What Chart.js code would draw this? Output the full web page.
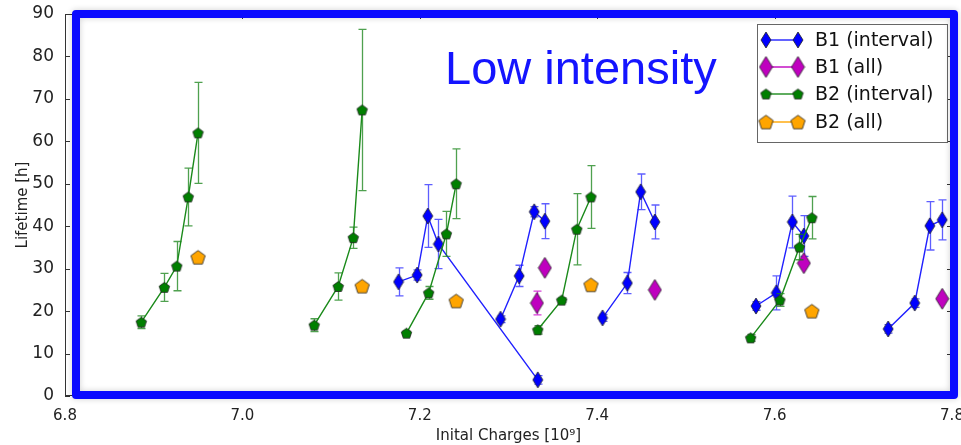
<!DOCTYPE html>
<html><head><meta charset="utf-8">
<script src="https://cdn.jsdelivr.net/npm/chart.js@4.4.0/dist/chart.umd.min.js"></script>
<style>html,body{margin:0;padding:0;background:#fff;}#wrap{width:961px;height:445px;}</style>
</head><body><div id="wrap"><canvas id="c" width="961" height="445"></canvas></div>
<script>
// ---- tick labels ----
const xTicks = [6.8, 7.0, 7.2, 7.4, 7.6, 7.8];
const yTicks = [0, 10, 20, 30, 40, 50, 60, 70, 80, 90];

// ---- B1 (interval) ----
const b1IntGroup = [1,1,1,1,1, 2,2,2,2, 3,3,3,3, 4,4,4,4, 5,5,5,5];
const b1IntX   = [7.176,7.197,7.209,7.221,7.333, 7.291,7.312,7.329,7.341, 7.406,7.434,7.449,7.465, 7.579,7.602,7.620,7.633, 7.728,7.758,7.775,7.789];
const b1IntY   = [26.9,28.5,42.4,35.8,3.8, 18.1,28.3,43.4,41.2, 18.4,26.6,48.1,41.0, 21.2,24.3,41.0,37.7, 15.8,21.9,40.1,41.5];
const b1IntErr = [3.3,1.2,7.4,5.8,1.0, 0.8,2.5,1.2,4.1, 0.8,2.5,4.2,4.0, 1.0,4.0,6.1,4.8, 1.0,1.0,5.7,4.7];

// ---- B1 (all) ----
const b1AllX   = [7.332, 7.341, 7.465, 7.633, 7.789];
const b1AllY   = [21.9, 30.2, 25.0, 31.3, 22.9];
const b1AllErr = [2.8, 0, 0, 0, 0];

// ---- B2 (interval) ----
const b2IntGroup = [1,1,1,1,1, 2,2,2,2, 3,3,3,3, 4,4,4,4, 5,5,5,5];
const b2IntX   = [6.886,6.912,6.926,6.939,6.950, 7.081,7.108,7.125,7.135, 7.185,7.210,7.230,7.241, 7.333,7.360,7.377,7.393, 7.573,7.606,7.628,7.642];
const b2IntY   = [17.4,25.6,30.6,46.9,62.0, 16.7,25.8,37.3,67.4, 14.8,24.3,38.2,50.0, 15.6,22.6,39.3,46.9, 13.7,22.6,35.1,42.0];
const b2IntErr = [1.5,3.3,5.8,6.8,11.9, 1.5,3.2,2.5,19.0, 0.5,1.5,5.3,8.2, 1.0,0.5,8.4,7.4, 0.8,1.5,3.0,5.0];

// ---- B2 (all) ----
const b2AllX = [6.950, 7.135, 7.241, 7.393, 7.642];
const b2AllY = [32.7, 25.9, 22.4, 26.2, 20.0];

const labels = ['B1 (interval)', 'B1 (all)', 'B2 (interval)', 'B2 (all)'];
const titleText = 'Low intensity';

// ---- marker images ----
function diamond(w, h, fill) {
  const c = document.createElement('canvas'); c.width = w + 2; c.height = h + 2;
  const g = c.getContext('2d'); const cx = c.width / 2, cy = c.height / 2;
  g.beginPath(); g.moveTo(cx, cy - h/2); g.lineTo(cx + w/2, cy); g.lineTo(cx, cy + h/2); g.lineTo(cx - w/2, cy); g.closePath();
  g.fillStyle = fill; g.fill(); g.strokeStyle = '#222'; g.lineWidth = 0.8; g.stroke();
  return c;
}
function pentagon(d, fill) {
  const c = document.createElement('canvas'); c.width = d + 2; c.height = d + 2;
  const g = c.getContext('2d'); const cx = c.width / 2, cy = c.height / 2 + d*0.05, r = d / 2;
  g.beginPath();
  for (let k = 0; k < 5; k++) { const a = -Math.PI/2 + k * 2*Math.PI/5; const px = cx + r*Math.cos(a), py = cy + r*Math.sin(a); k ? g.lineTo(px, py) : g.moveTo(px, py); }
  g.closePath(); g.fillStyle = fill; g.fill(); g.strokeStyle = '#222'; g.lineWidth = 0.8; g.stroke();
  return c;
}
const mkB1i = diamond(10, 16, '#0000ff');
const mkB1a = diamond(13, 21, '#bf00bf');
const mkB2i = pentagon(11, '#007f00');
const mkB2a = pentagon(15, '#ffa500');

function build(xs, ys, errs, groups) {
  const data = [], e = [];
  for (let i = 0; i < xs.length; i++) {
    if (groups && i > 0 && groups[i] !== groups[i-1]) { data.push({x: xs[i], y: null}); e.push(0); }
    data.push({x: xs[i], y: ys[i]}); e.push(errs ? errs[i] : 0);
  }
  return {data, e};
}
const s1 = build(b1IntX, b1IntY, b1IntErr, b1IntGroup);
const s2 = build(b1AllX, b1AllY, b1AllErr, null);
const s3 = build(b2IntX, b2IntY, b2IntErr, b2IntGroup);
const s4 = build(b2AllX, b2AllY, null, null);

const datasets = [
  {label: labels[0], data: s1.data, errors: s1.e, errColor: 'rgba(40,40,255,0.75)', borderColor: '#2020ff', borderWidth: 1.4, showLine: true, spanGaps: false, pointStyle: mkB1i, pointRadius: 8, order: 4, marker: mkB1i},
  {label: labels[1], data: s2.data, errors: s2.e, errColor: 'rgba(200,0,200,0.75)', borderColor: '#bf00bf', borderWidth: 1.4, showLine: false, pointStyle: mkB1a, pointRadius: 10, order: 3, marker: mkB1a},
  {label: labels[2], data: s3.data, errors: s3.e, errColor: 'rgba(20,130,20,0.75)', borderColor: '#1a8a1a', borderWidth: 1.4, showLine: true, spanGaps: false, pointStyle: mkB2i, pointRadius: 6, order: 2, marker: mkB2i},
  {label: labels[3], data: s4.data, errors: s4.e, errColor: '#ffa500', borderColor: '#ffa500', borderWidth: 1.4, showLine: false, pointStyle: mkB2a, pointRadius: 8, order: 1, marker: mkB2a}
];

const decor = {
  id: 'decor',
  beforeDatasetDraw(chart, args) {
    const ds = chart.data.datasets[args.index];
    if (!ds.errors) return;
    const xs = chart.scales.x, ys = chart.scales.y, ctx = chart.ctx;
    ctx.save(); ctx.strokeStyle = ds.errColor; ctx.lineWidth = 1.3;
    ds.data.forEach((p, i) => {
      const e = ds.errors[i]; if (p.y == null || !e) return;
      const px = Math.round(xs.getPixelForValue(p.x)) + 0.5;
      const y1 = ys.getPixelForValue(p.y - e), y2 = ys.getPixelForValue(p.y + e);
      ctx.beginPath(); ctx.moveTo(px, y1); ctx.lineTo(px, y2);
      ctx.moveTo(px - 4, y1); ctx.lineTo(px + 4, y1); ctx.moveTo(px - 4, y2); ctx.lineTo(px + 4, y2);
      ctx.stroke();
    });
    ctx.restore();
  },
  afterDraw(chart) {
    const ctx = chart.ctx, a = chart.chartArea, xs = chart.scales.x, ys = chart.scales.y;
    ctx.save();
    // spines + inward ticks
    ctx.strokeStyle = '#333'; ctx.lineWidth = 1;
    ctx.strokeRect(a.left + 0.5, a.top + 0.5, a.right - a.left - 1, a.bottom - a.top - 1);
    ctx.beginPath();
    yTicks.forEach(v => { const y = Math.round(ys.getPixelForValue(v)) + 0.5; ctx.moveTo(a.left, y); ctx.lineTo(a.left + 5, y); ctx.moveTo(a.right, y); ctx.lineTo(a.right - 5, y); });
    xTicks.forEach(v => { const x = Math.round(xs.getPixelForValue(v)) + 0.5; ctx.moveTo(x, a.bottom); ctx.lineTo(x, a.bottom - 5); ctx.moveTo(x, a.top); ctx.lineTo(x, a.top + 5); });
    ctx.stroke();
    // title text
    ctx.fillStyle = '#1414ff'; ctx.font = '47px "Liberation Sans", Arial, sans-serif';
    ctx.textAlign = 'left'; ctx.textBaseline = 'alphabetic';
    ctx.fillText(titleText, 445, 84);
    // legend
    const lx = 757, ly = 24, lw = 190, lh = 118;
    ctx.fillStyle = '#fff'; ctx.fillRect(lx, ly, lw, lh);
    ctx.strokeStyle = '#666'; ctx.lineWidth = 1; ctx.strokeRect(lx + 0.5, ly + 0.5, lw, lh);
    const rows = [40, 67, 94, 122];
    chart.data.datasets.forEach((ds, i) => {
      const y = rows[i];
      ctx.strokeStyle = ds.borderColor; ctx.lineWidth = 1.4;
      ctx.beginPath(); ctx.moveTo(766, y); ctx.lineTo(798, y); ctx.stroke();
      const m = ds.marker;
      ctx.drawImage(m, 766 - m.width/2, y - m.height/2);
      ctx.drawImage(m, 798 - m.width/2, y - m.height/2);
      ctx.fillStyle = '#111'; ctx.font = '19px "DejaVu Sans", sans-serif'; ctx.textBaseline = 'middle';
      ctx.fillText(ds.label, 815, y + 1);
    });
    // blue frame
    ctx.shadowColor = 'rgba(0,0,0,0.18)'; ctx.shadowBlur = 6;
    ctx.strokeStyle = '#0a0aff'; ctx.lineWidth = 8; ctx.lineJoin = 'round';
    ctx.strokeRect(76, 14, 954 - 76, 395 - 14);
    ctx.restore();
  }
};

Chart.defaults.font.family = '"DejaVu Sans", sans-serif';
Chart.defaults.color = '#222';

new Chart(document.getElementById('c'), {
  type: 'scatter',
  data: {datasets},
  options: {
    responsive: false, animation: false, devicePixelRatio: 1,
    layout: {autoPadding: false, padding: {top: 14, right: 9, left: 0, bottom: 0}},
    plugins: {legend: {display: false}, tooltip: {enabled: false}},
    scales: {
      x: {
        type: 'linear', min: 6.8, max: 7.8,
        grid: {display: false}, border: {display: false},
        ticks: {stepSize: 0.2, maxRotation: 0, autoSkip: false, padding: 3, font: {size: 15}, color: '#222',
          callback: v => v.toFixed(1)},
        afterBuildTicks: s => { s.ticks = xTicks.map(v => ({value: v})); },
        title: {display: true, text: 'Inital Charges [10⁹]', font: {size: 15}, color: '#222', padding: {top: 6, bottom: 0}},
        afterFit: s => { s.height = 49; s.paddingLeft = 0; s.paddingRight = 0; }
      },
      y: {
        type: 'linear', min: 0, max: 90,
        grid: {display: false}, border: {display: false},
        ticks: {stepSize: 10, padding: 3, font: {size: 17}, color: '#222'},
        afterBuildTicks: s => { s.ticks = yTicks.map(v => ({value: v})); },
        title: {display: true, text: 'Lifetime [h]', font: {size: 15}, color: '#222', padding: {top: 14, bottom: 0}},
        afterFit: s => { s.width = 65; s.paddingTop = 0; s.paddingBottom = 0; }
      }
    }
  },
  plugins: [decor]
});
</script>
</body></html>
